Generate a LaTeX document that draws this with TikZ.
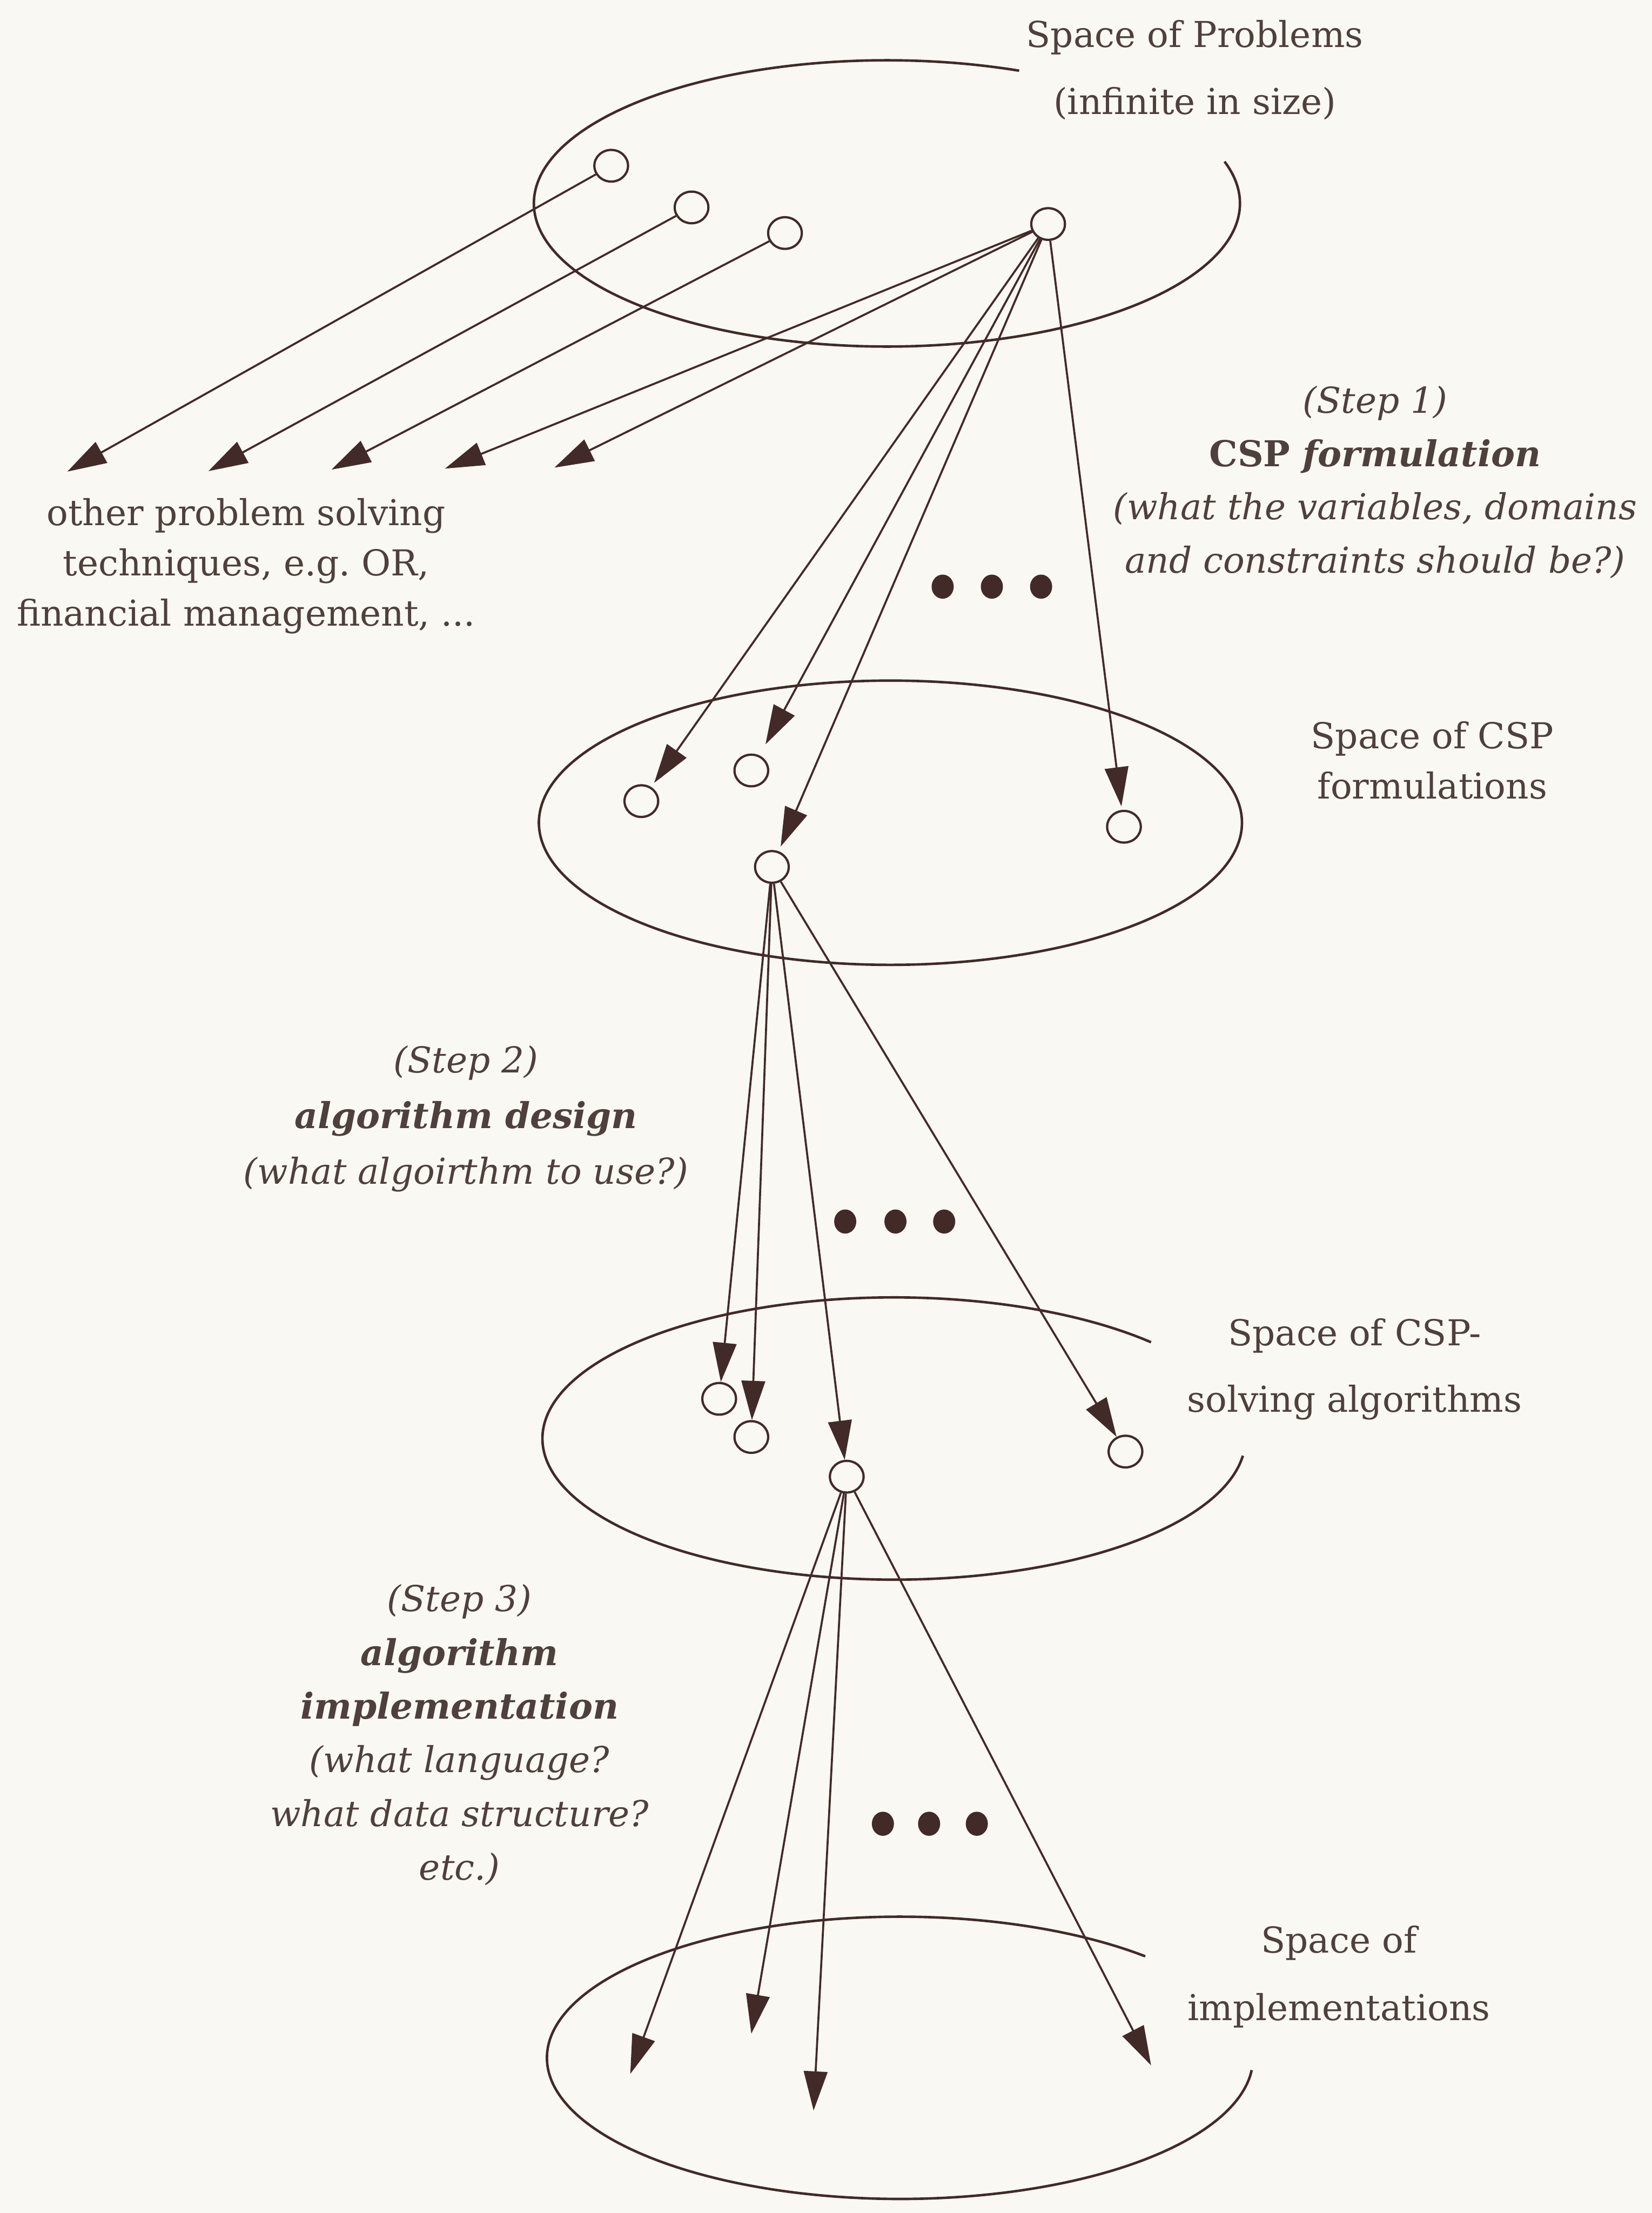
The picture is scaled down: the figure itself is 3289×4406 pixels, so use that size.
\documentclass[tikz,border=0pt]{standalone}
\usepackage{fontspec}
\setmainfont{DejaVu Serif}
\usetikzlibrary{arrows.meta,shapes.geometric}
\definecolor{paper}{RGB}{250,248,243}
\definecolor{ink}{RGB}{66,42,40}
\definecolor{txt}{RGB}{78,64,60}
\begin{document}
\begin{tikzpicture}[x=0.01cm,y=-0.01cm,
  spacering/.style={draw=ink,line width=0.05cm},
  stnode/.style={ellipse,draw=ink,line width=0.045cm,fill=paper,minimum width=0.67cm,minimum height=0.63cm,inner sep=0pt},
  arr/.style={draw=ink,line width=0.04cm,-{Triangle[length=0.78cm,width=0.47cm]}},
  lblA/.style={text=txt,inner sep=0pt,align=center,anchor=base,font=\fontsize{20.2pt}{28.45pt}\selectfont},
  lblB/.style={text=txt,inner sep=0pt,align=center,anchor=base,font=\fontsize{20.2pt}{37.7pt}\selectfont},
  lblC/.style={text=txt,inner sep=0pt,align=center,anchor=base,font=\fontsize{20.2pt}{30.4pt}\selectfont\itshape},
  dotmark/.style={fill=ink}
]
\fill[paper] (0,0) rectangle (3289,4406);
\useasboundingbox (0,0) rectangle (3289,4406);

% spaces (ellipses)
\draw[spacering] plot[domain=-17:292,samples=160,smooth] ({1766+703*cos(\x)},{405+285*sin(\x)});
\draw[spacering] plot[domain=0:360,samples=180,smooth] ({1773+700*cos(\x)},{1638+283*sin(\x)});
\draw[spacering] plot[domain=7:317,samples=160,smooth] ({1780+700*cos(\x)},{2864+281*sin(\x)});
\draw[spacering] plot[domain=5:314,samples=160,smooth] ({1792+703*cos(\x)},{4097+281*sin(\x)});

% problem nodes
\node[stnode] (p1) at (1217,330) {};
\node[stnode] (p2) at (1377,413) {};
\node[stnode] (p3) at (1563,464) {};
\node[stnode] (p4) at (2087,446) {};
% formulation nodes
\node[stnode] (f1) at (1277,1595) {};
\node[stnode] (f2) at (1496,1534) {};
\node[stnode] (f3) at (1537,1726) {};
\node[stnode] (f4) at (2238,1646) {};
% algorithm nodes
\node[stnode] (a1) at (1432,2785) {};
\node[stnode] (a2) at (1496,2861) {};
\node[stnode] (a3) at (1686,2940) {};
\node[stnode] (a4) at (2241,2890) {};

% free ends
\coordinate (o1) at (134,939);
\coordinate (o2) at (415,938);
\coordinate (o3) at (660,935);
\coordinate (o4) at (886,933);
\coordinate (o5) at (1104,931);
\coordinate (i1) at (1255,4129);
\coordinate (i2) at (1496,4049);
\coordinate (i3) at (1620,4202);
\coordinate (i4) at (2292,4112);

% connectors
\draw[arr] (p1) -- (o1);
\draw[arr] (p2) -- (o2);
\draw[arr] (p3) -- (o3);
\draw[arr] (p4) -- (o4);
\draw[arr] (p4) -- (o5);
\draw[arr,shorten >=0.1cm] (p4) -- (f1);
\draw[arr,shorten >=0.25cm] (p4) -- (f2);
\draw[arr,shorten >=0.1cm] (p4) -- (f3);
\draw[arr,shorten >=0.07cm] (p4) -- (f4);
\draw[arr] (f3) -- (a1);
\draw[arr] (f3) -- (a2);
\draw[arr] (f3) -- (a3);
\draw[arr] (f3) -- (a4);
\draw[arr] (a3) -- (i1);
\draw[arr] (a3) -- (i2);
\draw[arr] (a3) -- (i3);
\draw[arr] (a3) -- (i4);

% ellipsis dots
\fill[dotmark] (1877,1168) ellipse[x radius=22,y radius=24];
\fill[dotmark] (1975,1168) ellipse[x radius=22,y radius=24];
\fill[dotmark] (2073,1168) ellipse[x radius=22,y radius=24];
\fill[dotmark] (1683,2432) ellipse[x radius=22,y radius=24];
\fill[dotmark] (1783,2432) ellipse[x radius=22,y radius=24];
\fill[dotmark] (1880,2432) ellipse[x radius=22,y radius=24];
\fill[dotmark] (1758,3631) ellipse[x radius=22,y radius=24];
\fill[dotmark] (1850,3631) ellipse[x radius=22,y radius=24];
\fill[dotmark] (1945,3631) ellipse[x radius=22,y radius=24];

% labels (anchored at the baseline of their last line)
\node[lblB] (tprob) at (2379,227) {Space of Problems\\(infinite in size)};
\node[lblA] (tform) at (2852,1590) {Space of CSP\\formulations};
\node[lblB] (talg) at (2697,2811) {Space of CSP-\\solving algorithms};
\node[lblB,font=\fontsize{20.2pt}{38.1pt}\selectfont] (timpl) at (2666,4022) {Space of\\implementations};
\node[lblA] (tother) at (490,1246) {other problem solving\\techniques, e.g.\ OR,\\financial management, ...};
\node[lblC,font=\fontsize{20.2pt}{30.2pt}\selectfont\itshape] (tstep1) at (2738,1141) {(Step 1)\\\textbf{\textup{CSP} formulation}\\(what the variables, domains\\and constraints should be?)};
\node[lblC,font=\fontsize{20.2pt}{31.4pt}\selectfont\itshape] (tstep2) at (928,2357) {(Step 2)\\\textbf{algorithm design}\\(what algoirthm to use?)};
\node[lblC] (tstep3) at (915,3743) {(Step 3)\\\textbf{algorithm}\\\textbf{implementation}\\(what language?\\what data structure?\\etc.)};
\end{tikzpicture}
\end{document}
